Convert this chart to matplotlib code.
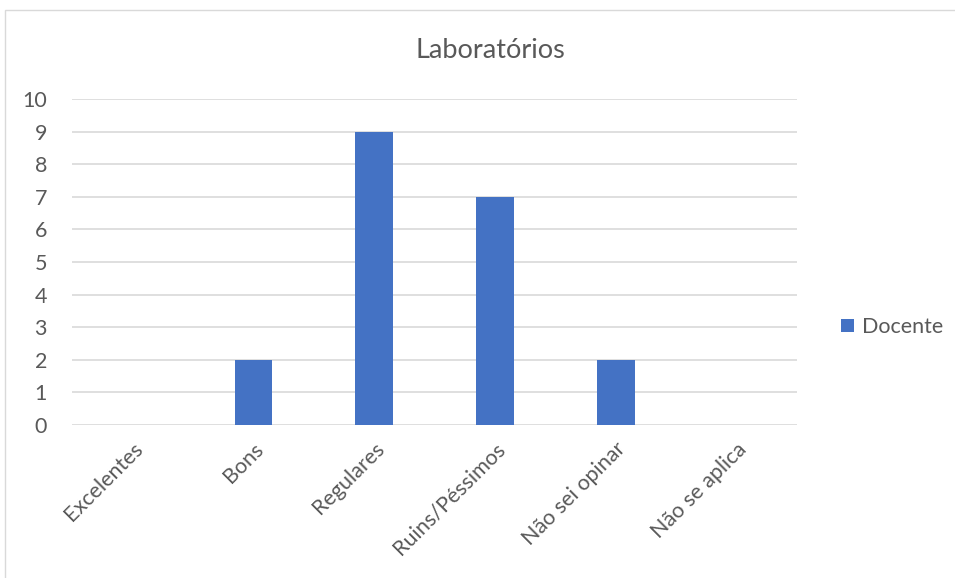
import matplotlib.pyplot as plt
from matplotlib.patches import Rectangle

categorias = ['Excelentes', 'Bons', 'Regulares', 'Ruins/Péssimos', 'Não sei opinar', 'Não se aplica']
docente = [0, 2, 9, 7, 2, 0]
yticks = list(range(0, 11))

plt.rcParams['font.family'] = ['Lato', 'DejaVu Sans']
cor_texto = '#595959'
azul = '#4472C4'

fig = plt.figure(figsize=(9.55, 5.78), dpi=100)
ax = fig.add_axes([0.0754, 0.2647, 0.7592, 0.564])

x = range(len(categorias))
ax.bar(x, docente, width=0.31, color=azul, label='Docente', zorder=3)

ax.set_xlim(-0.5, len(categorias) - 0.5)
ax.set_ylim(0, 10)
ax.set_yticks(yticks)
ax.set_xticks(list(x))
ax.set_xticklabels(categorias, rotation=45, ha='right', rotation_mode='anchor')
ax.tick_params(axis='both', length=0, labelsize=15.5, colors=cor_texto)
ax.tick_params(axis='y', pad=18)
ax.tick_params(axis='x', pad=10)
ax.grid(axis='y', color='#D9D9D9', linewidth=1.2, zorder=0)
for s in ax.spines.values():
    s.set_visible(False)

fig.text(0.513, 0.912, 'Laboratórios', ha='center', va='center', fontsize=19.5, color=cor_texto)

leg = fig.legend(loc='center left', bbox_to_anchor=(0.86, 0.434), frameon=False,
                 fontsize=15.5, handlelength=0.6, handleheight=0.6, handletextpad=0.4)
for t in leg.get_texts():
    t.set_color(cor_texto)

fig.patches.append(Rectangle((5 / 955, -0.1), 1.0, 1 - 10 / 578 + 0.1, transform=fig.transFigure,
                             fill=False, edgecolor='#D9D9D9', linewidth=1))

fig.savefig('out.png', dpi=100)
